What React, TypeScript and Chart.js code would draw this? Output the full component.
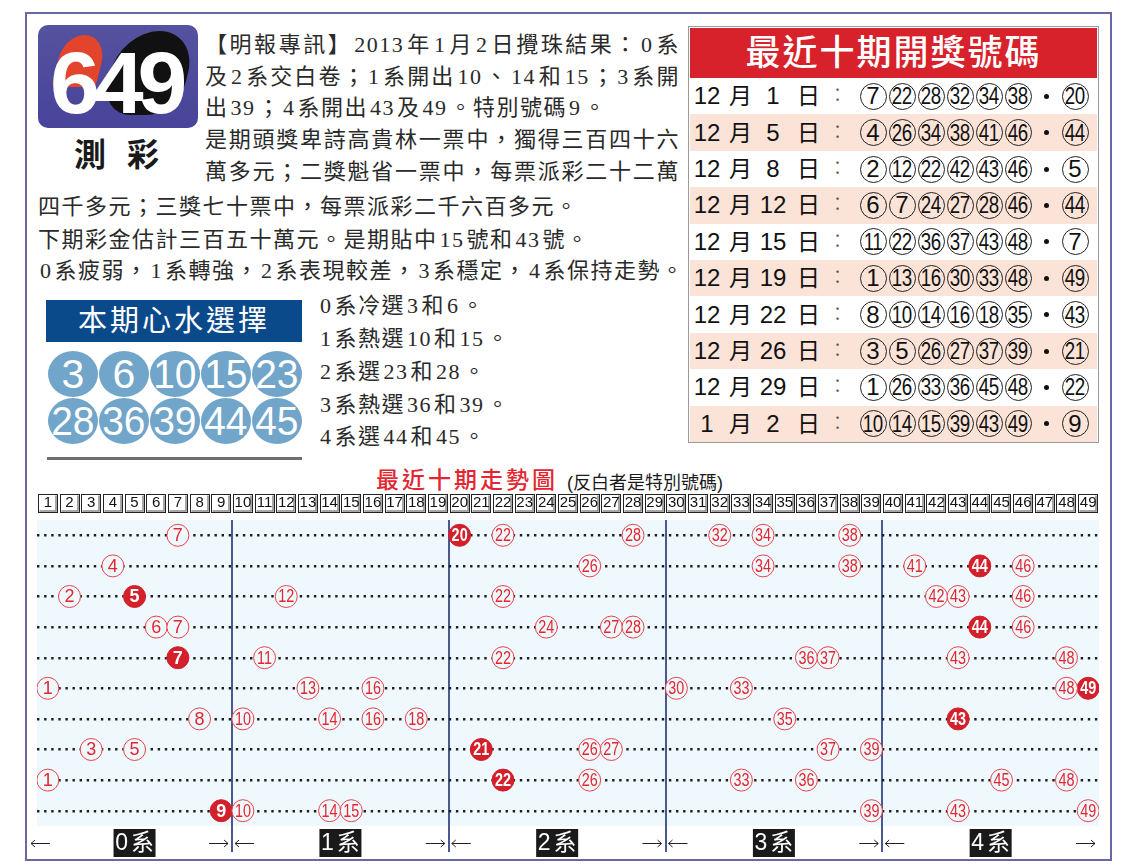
import React, { useEffect, useRef } from 'react';
import { Chart, registerables } from 'chart.js';

Chart.register(...registerables);

// ---------- data ----------
const drawMonths = [12, 12, 12, 12, 12, 12, 12, 12, 12, 1];
const drawDays = [1, 5, 8, 12, 15, 19, 22, 26, 29, 2];
const winningNumbers = [
  [7, 22, 28, 32, 34, 38],
  [4, 26, 34, 38, 41, 46],
  [2, 12, 22, 42, 43, 46],
  [6, 7, 24, 27, 28, 46],
  [11, 22, 36, 37, 43, 48],
  [1, 13, 16, 30, 33, 48],
  [8, 10, 14, 16, 18, 35],
  [3, 5, 26, 27, 37, 39],
  [1, 26, 33, 36, 45, 48],
  [10, 14, 15, 39, 43, 49],
];
const specialNumbers = [20, 44, 5, 44, 7, 49, 43, 21, 22, 9];
const groupLabels = ['0系', '1系', '2系', '3系', '4系'];
const groupEdges = [0.5, 9.5, 19.5, 29.5, 39.5, 49.5];
const pickNumbers = [3, 6, 10, 15, 23, 28, 36, 39, 44, 45];
const pickNotes = ['0系冷選3和6。', '1系熱選10和15。', '2系選23和28。', '3系熱選36和39。', '4系選44和45。'];
const newsLines = [
  '【明報專訊】2013年1月2日攪珠結果：0系',
  '及2系交白卷；1系開出10、14和15；3系開',
  '出39；4系開出43及49。特別號碼9。',
  '是期頭獎卑詩高貴林一票中，獨得三百四十六',
  '萬多元；二獎魁省一票中，每票派彩二十二萬',
  '四千多元；三獎七十票中，每票派彩二千六百多元。',
  '下期彩金估計三百五十萬元。是期貼中15號和43號。',
  '0系疲弱，1系轉強，2系表現較差，3系穩定，4系保持走勢。',
];

const CHART_BG = '#eff8fc';
const RED = '#e3262f';
const SERIF = '"Liberation Serif", "Noto Sans CJK TC", serif';
const SANS = '"Liberation Sans", "Noto Sans CJK TC", sans-serif';

function drawNumber(ctx: CanvasRenderingContext2D, text: string, x: number, y: number, color: string, bold: boolean) {
  ctx.save();
  ctx.translate(x, y + 1);
  if (text.length > 1) ctx.scale(0.8, 1);
  ctx.fillStyle = color;
  ctx.font = `${bold ? 'bold ' : ''}18px "Liberation Sans", Arial, sans-serif`;
  ctx.textAlign = 'center';
  ctx.textBaseline = 'middle';
  ctx.fillText(text, 0, 0);
  ctx.restore();
}

const trendPlugin = {
  id: 'trendDecor',
  beforeDraw(chart: any) {
    const { ctx, chartArea } = chart;
    ctx.save();
    ctx.fillStyle = CHART_BG;
    ctx.fillRect(chartArea.left, chartArea.top, chartArea.right - chartArea.left, chartArea.bottom - chartArea.top);
    const top = chart.scales.xTop;
    top.ticks.forEach((t: any) => {
      const cx = top.getPixelForValue(t.value);
      const x0 = Math.round(cx - 10) + 0.5;
      const y0 = top.top + 6.5;
      const w = 19;
      const h = 18;
      ctx.fillStyle = '#ffffff';
      ctx.fillRect(x0, y0, w, h);
      ctx.strokeStyle = '#8a8a8a';
      ctx.lineWidth = 1.5;
      ctx.beginPath();
      ctx.moveTo(x0 + w - 1.5, y0 + 1);
      ctx.lineTo(x0 + w - 1.5, y0 + h - 1.5);
      ctx.lineTo(x0 + 1, y0 + h - 1.5);
      ctx.stroke();
      ctx.strokeStyle = '#222';
      ctx.lineWidth = 1;
      ctx.strokeRect(x0, y0, w, h);
    });
    ctx.restore();
  },
  afterDatasetsDraw(chart: any) {
    const { ctx } = chart;
    chart.data.datasets.forEach((ds: any, di: number) => {
      const meta = chart.getDatasetMeta(di);
      meta.data.forEach((el: any, i: number) => {
        drawNumber(ctx, String(ds.data[i].x), el.x, el.y, di === 0 ? RED : '#ffffff', di === 1);
      });
    });
  },
  afterDraw(chart: any) {
    const { ctx } = chart;
    const xs = chart.scales.x;
    const y = xs.top + 17;
    ctx.save();
    for (let g = 0; g < groupLabels.length; g++) {
      const lo = xs.getPixelForValue(groupEdges[g]);
      const hi = xs.getPixelForValue(groupEdges[g + 1]);
      const mid = (lo + hi) / 2;
      ctx.fillStyle = '#1a1a1a';
      ctx.fillRect(mid - 21, y - 14, 42, 28);
      ctx.fillStyle = '#ffffff';
      ctx.font = '23px "Liberation Sans", "Noto Sans CJK TC", sans-serif';
      ctx.textAlign = 'center';
      ctx.textBaseline = 'middle';
      (ctx as any).letterSpacing = '3px';
      ctx.fillText(groupLabels[g], mid + 1.5, y + 1);
      (ctx as any).letterSpacing = '0px';
      ctx.strokeStyle = '#222';
      ctx.lineWidth = 1;
      const la = g === 0 ? lo - 6 : lo + 3;
      ctx.beginPath();
      ctx.moveTo(la, y + 0.5);
      ctx.lineTo(la + 19, y + 0.5);
      ctx.moveTo(la + 4, y - 3);
      ctx.lineTo(la, y + 0.5);
      ctx.lineTo(la + 4, y + 4);
      const ra = hi - 4;
      ctx.moveTo(ra - 19, y + 0.5);
      ctx.lineTo(ra, y + 0.5);
      ctx.moveTo(ra - 4, y - 3);
      ctx.lineTo(ra, y + 0.5);
      ctx.lineTo(ra - 4, y + 4);
      ctx.stroke();
    }
    ctx.restore();
  },
};

function TrendChart() {
  const ref = useRef<HTMLCanvasElement>(null);
  useEffect(() => {
    if (!ref.current) return;
    const mainPts: { x: number; y: number }[] = [];
    winningNumbers.forEach((row, i) => row.forEach((n) => mainPts.push({ x: n, y: i + 1 })));
    const specPts = specialNumbers.map((n, i) => ({ x: n, y: i + 1 }));
    const chart = new Chart(ref.current, {
      type: 'scatter',
      data: {
        datasets: [
          {
            label: '開獎號碼',
            data: mainPts,
            pointRadius: 11,
            pointHoverRadius: 11,
            pointBorderWidth: 1,
            borderColor: '#e8434a',
            backgroundColor: CHART_BG,
          },
          {
            label: '特別號碼',
            data: specPts,
            pointRadius: 11,
            pointHoverRadius: 11,
            pointBorderWidth: 1,
            borderColor: '#d4202b',
            backgroundColor: '#d4202b',
          },
        ],
      },
      options: {
        animation: false,
        responsive: false,
        events: [],
        layout: { padding: { left: 9, right: 13, top: 0, bottom: 8 } },
        plugins: { legend: { display: false }, tooltip: { enabled: false } },
        scales: {
          x: {
            type: 'linear',
            position: 'bottom',
            min: 0.5,
            max: 49.5,
            afterBuildTicks: (s: any) => {
              s.ticks = groupEdges.slice(1, -1).map((v) => ({ value: v }));
            },
            afterFit: (s: any) => {
              s.height = 26;
            },
            ticks: { display: false },
            grid: { color: '#4a5890', lineWidth: 2, drawTicks: true, tickLength: 26, tickColor: '#4a5890', tickWidth: 2 },
            border: { display: false },
          },
          xTop: {
            type: 'linear',
            position: 'top',
            min: 0.5,
            max: 49.5,
            afterBuildTicks: (s: any) => {
              const t = [];
              for (let v = 1; v <= 49; v++) t.push({ value: v });
              s.ticks = t;
            },
            afterFit: (s: any) => {
              s.height = 32;
            },
            ticks: {
              autoSkip: false,
              maxRotation: 0,
              minRotation: 0,
              padding: 8,
              color: '#111',
              font: { family: '"Liberation Sans", Arial, sans-serif', size: 15 },
              callback: (v: any) => String(v),
            },
            grid: { display: false, drawTicks: false },
            border: { display: false },
          },
          y: {
            type: 'linear',
            reverse: true,
            min: 0.5,
            max: 10.5,
            afterBuildTicks: (s: any) => {
              s.ticks = drawDays.map((_, i) => ({ value: i + 1 }));
            },
            afterFit: (s: any) => {
              s.width = 0;
            },
            ticks: { display: false },
            grid: { color: '#1e1e1e', lineWidth: 2.4, drawTicks: false },
            border: { display: false, dash: [2.4, 4.7] },
          },
        },
      } as any,
      plugins: [trendPlugin],
    });
    return () => chart.destroy();
  }, []);
  return (
    <canvas
      ref={ref}
      width={1087}
      height={372}
      style={{ position: 'absolute', left: 25, top: 488, width: 1087, height: 372 }}
    />
  );
}

function CircNum({ n, cx, cy }: { n: number; cx: number; cy: number }) {
  const two = n >= 10;
  return (
    <div
      style={{
        position: 'absolute',
        left: cx - 13.5,
        top: cy - 13.5,
        width: 27,
        height: 27,
        borderRadius: '50%',
        border: '1.2px solid #222',
        boxSizing: 'border-box',
        display: 'flex',
        alignItems: 'center',
        justifyContent: 'center',
        fontFamily: '"Liberation Sans", Arial, sans-serif',
        fontSize: 24,
        color: '#111',
        lineHeight: 1,
      }}
    >
      <span style={{ display: 'inline-block', transform: two ? 'scaleX(0.78)' : 'none', letterSpacing: two ? -0.5 : 0 }}>{n}</span>
    </div>
  );
}

const abs = (l: number, t: number, extra: React.CSSProperties = {}): React.CSSProperties => ({
  position: 'absolute',
  left: l,
  top: t,
  ...extra,
});

function spaced(text: string) {
  return text.split(/(\d+)/).map((part, i) =>
    /^\d+$/.test(part) ? (
      <span key={i} style={{ margin: '0 2px' }}>
        {part}
      </span>
    ) : (
      <React.Fragment key={i}>{part}</React.Fragment>
    ),
  );
}

export default function App() {
  const lineCenters = [45, 77, 108, 140, 172, 207, 240, 271];
  const lineLefts = [205, 205, 205, 205, 205, 38, 38, 38];
  const justified = [true, true, false, true, true, false, false, false];
  const rowH = 36.4;
  return (
    <div style={{ position: 'absolute', left: 0, top: 0, width: 1142, height: 868, background: '#fff', overflow: 'hidden' }}>
      {/* outer frame */}
      <div style={abs(25, 12, { width: 1087, height: 849, border: '2px solid #6868a8', boxSizing: 'border-box' })} />

      {/* logo */}
      <div
        style={abs(38, 25, {
          width: 160,
          height: 103,
          borderRadius: 10,
          background: 'linear-gradient(180deg,#55529f,#47449a)',
          overflow: 'hidden',
        })}
      >
        <div style={abs(20, 10, { width: 44, height: 52, background: '#e2452b', borderRadius: '45% 55% 10% 10%', transform: 'skewX(-14deg)' })} />
        <div style={abs(72, 6, { width: 78, height: 84, background: '#111', borderRadius: '50% 50% 40% 40%', transform: 'skewX(-14deg)' })} />
        <div
          style={abs(12, 12, {
            fontFamily: '"Liberation Sans", Arial, sans-serif',
            fontWeight: 'bold',
            fontSize: 88,
            letterSpacing: -6,
            color: '#fff',
            lineHeight: '92px',
            transform: 'scaleX(1.02)',
            transformOrigin: 'left top',
          })}
        >
          649
        </div>
      </div>
      <div style={abs(74, 136, { fontFamily: SANS, fontWeight: 'bold', fontSize: 32, letterSpacing: 21, color: '#1a1a1a', lineHeight: '38px' })}>
        測彩
      </div>

      {/* news text */}
      {newsLines.map((t, i) => (
        <div
          key={i}
          style={abs(lineLefts[i], lineCenters[i] - 15, {
            width: justified[i] ? 475 : undefined,
            whiteSpace: justified[i] ? 'normal' : 'nowrap',
            textAlign: justified[i] ? 'justify' : 'left',
            textAlignLast: justified[i] ? 'justify' : 'auto',
            fontFamily: SERIF,
            fontSize: 22,
            letterSpacing: 1.5,
            lineHeight: '30px',
            color: '#2a2a2a',
          } as any)}
        >
          {spaced(t)}
        </div>
      ))}

      {/* picks */}
      <div
        style={abs(46, 300, {
          width: 256,
          height: 42,
          background: '#0b4a8a',
          color: '#fff',
          fontFamily: SANS,
          fontSize: 29,
          letterSpacing: 3,
          lineHeight: '42px',
          textAlign: 'center',
        })}
      >
        本期心水選擇
      </div>
      {pickNumbers.map((n, i) => {
        const cx = 73 + (i % 5) * 51;
        const cy = 374 + Math.floor(i / 5) * 47;
        return (
          <div
            key={i}
            style={abs(cx - 25, cy - 23, {
              width: 50,
              height: 46,
              borderRadius: '50%',
              background: '#71a5c9',
              display: 'flex',
              alignItems: 'center',
              justifyContent: 'center',
              color: '#fff',
              fontFamily: '"Liberation Sans", Arial, sans-serif',
              fontSize: 41,
              lineHeight: 1,
            })}
          >
            <span style={{ display: 'inline-block', transform: n >= 10 ? 'scaleX(0.95)' : 'none' }}>{n}</span>
          </div>
        );
      })}
      <div style={abs(47, 457, { width: 255, height: 3, background: '#6e6e6e' })} />
      {pickNotes.map((t, i) => (
        <div
          key={i}
          style={abs(318, [306, 339, 372, 405, 437][i] - 15, {
            fontFamily: SERIF,
            fontSize: 22,
            letterSpacing: 1.5,
            lineHeight: '30px',
            color: '#2a2a2a',
            whiteSpace: 'nowrap',
          })}
        >
          {spaced(t)}
        </div>
      ))}

      {/* results table */}
      <div style={abs(688, 26, { width: 411, height: 417, border: '1.5px solid #9a9a9a', boxSizing: 'border-box' })} />
      <div
        style={abs(690, 28, {
          width: 407,
          height: 50,
          background: '#d7212b',
          color: '#fff',
          fontFamily: SANS,
          fontSize: 35,
          letterSpacing: 2,
          lineHeight: '50px',
          textAlign: 'center',
          fontWeight: 500,
        })}
      >
        最近十期開獎號碼
      </div>
      {drawDays.map((d, i) => {
        const top = 78 + rowH * i;
        const cy = top + rowH / 2;
        return (
          <React.Fragment key={i}>
            <div style={abs(690, top, { width: 407, height: rowH, background: i % 2 === 1 ? '#fbe3d7' : '#fff' })} />
            <div style={abs(687, cy - 15, { width: 40, textAlign: 'center', fontFamily: SANS, fontSize: 24, lineHeight: '30px', color: '#111' })}>
              {drawMonths[i]}
            </div>
            <div style={abs(729, cy - 15, { fontFamily: SANS, fontSize: 23, lineHeight: '30px', color: '#111' })}>月</div>
            <div style={abs(753, cy - 15, { width: 40, textAlign: 'center', fontFamily: SANS, fontSize: 24, lineHeight: '30px', color: '#111' })}>
              {d}
            </div>
            <div style={abs(797, cy - 15, { fontFamily: SANS, fontSize: 23, lineHeight: '30px', color: '#111' })}>日</div>
            <div style={abs(828, cy - 15, { fontFamily: SANS, fontSize: 19, lineHeight: '30px', color: '#555', fontWeight: 300 })}>：</div>
            {winningNumbers[i].map((n, k) => (
              <CircNum key={k} n={n} cx={873 + 29 * k} cy={cy} />
            ))}
            <div style={abs(1043.5, cy - 2.5, { width: 5, height: 5, borderRadius: '50%', background: '#111' })} />
            <CircNum n={specialNumbers[i]} cx={1075} cy={cy} />
          </React.Fragment>
        );
      })}

      {/* trend title */}
      <div style={abs(376, 466, { fontFamily: SANS, fontSize: 23, letterSpacing: 3, color: '#e3262f', lineHeight: '28px', whiteSpace: 'nowrap', fontWeight: 500 })}>
        最近十期走勢圖
      </div>
      <div style={abs(567, 471, { fontFamily: SANS, fontSize: 18, color: '#1a1a1a', lineHeight: '24px', whiteSpace: 'nowrap' })}>
        (反白者是特別號碼)
      </div>

      <TrendChart />
    </div>
  );
}
